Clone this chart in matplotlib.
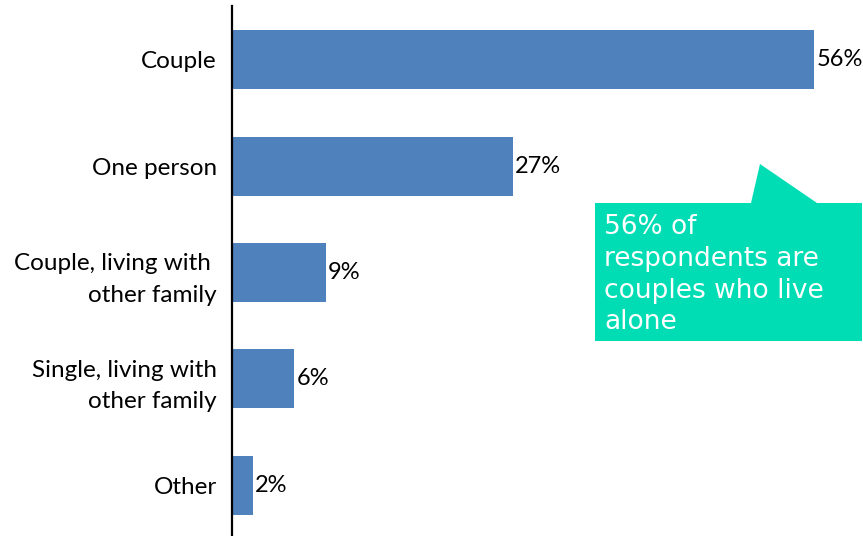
import matplotlib
matplotlib.use("Agg")
import matplotlib.pyplot as plt
from matplotlib.patches import Polygon

categories = ["Couple", "One person", "Couple, living with \nother family",
              "Single, living with\nother family", "Other"]
values = [56, 27, 9, 6, 2]
value_labels = ["56%", "27%", "9%", "6%", "2%"]
callout_text = "56% of\nrespondents are\ncouples who live\nalone"

W, H = 863, 536
fig = plt.figure(figsize=(W / 100, H / 100), dpi=100)
ax = fig.add_axes([232 / W, -2.5 / H, (W - 232) / W, 532 / H])

bar_color = "#4F81BD"
y = list(range(len(categories)))
ax.barh(y, values, height=0.555, color=bar_color)
ax.set_ylim(len(categories) - 0.5, -0.5)
ax.set_xlim(0, 60.7)

label_font = ["Lato", "DejaVu Sans"]
ax.set_yticks(y)
ax.set_yticklabels(categories, fontsize=17.5, family=label_font,
                   ha="right", multialignment="right", linespacing=1.6)
ax.tick_params(axis="y", length=0, pad=11)
ax.set_xticks([])

for yi, v, lab in zip(y, values, value_labels):
    ax.annotate(lab, (v, yi), xytext=(1.5, 0), textcoords="offset points",
                va="center", ha="left", fontsize=17, family=label_font)

for side in ["top", "right", "bottom"]:
    ax.spines[side].set_visible(False)
ax.spines["left"].set_linewidth(1.6)
ax.spines["left"].set_color("black")

# speech-bubble callout
def fx(px):
    return px / W

def fy(py):
    return 1 - py / H

pts = [(595, 203), (751, 203), (760, 164), (817, 203), (862, 203),
       (862, 341), (595, 341)]
bubble = Polygon([(fx(a), fy(b)) for a, b in pts], closed=True,
                 transform=fig.transFigure, facecolor="#00DDB4",
                 edgecolor="none", zorder=5)
fig.patches.append(bubble)
fig.text(fx(604), fy(214), callout_text, color="white", fontsize=19,
         family="DejaVu Sans", va="top", ha="left", linespacing=1.29,
         zorder=6)

fig.savefig("out.png", dpi=100)
